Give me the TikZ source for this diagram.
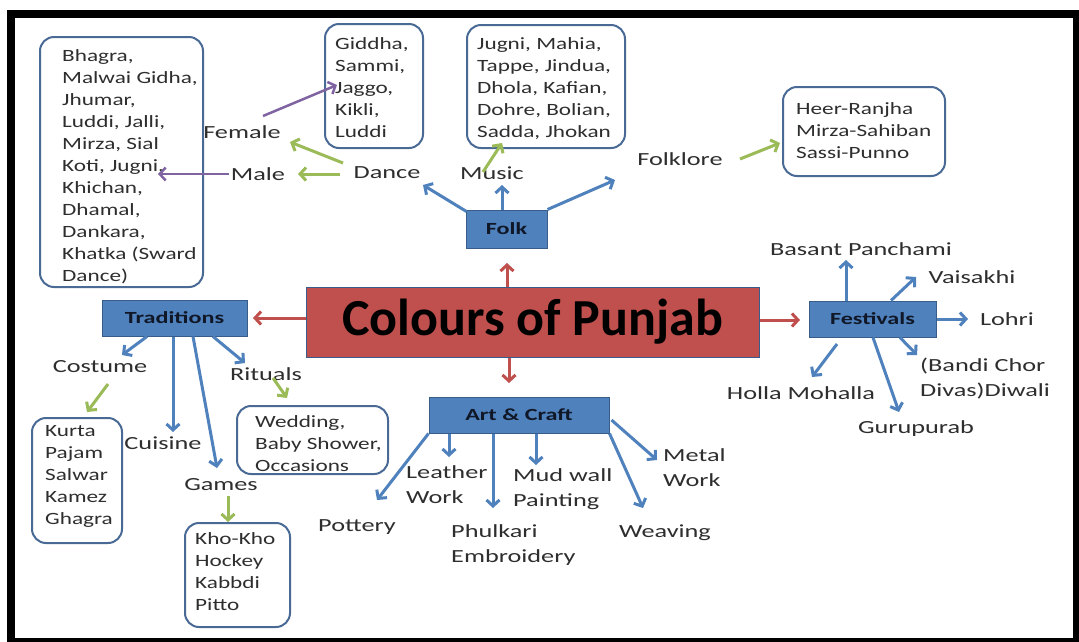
\documentclass[tikz,border=0pt]{standalone}
\usepackage{fontspec}
\setmainfont{Carlito}
\newfontfamily\lblfont[FakeStretch=1.42]{Carlito}
\newfontfamily\lstfont[FakeStretch=1.35]{Carlito}
\newfontfamily\titlefont{Carlito}
\usetikzlibrary{arrows.meta}
\definecolor{boxblue}{HTML}{4F81BD}
\definecolor{boxedge}{HTML}{385D8A}
\definecolor{redc}{HTML}{C0504D}
\definecolor{greenc}{HTML}{9BBB59}
\definecolor{purplec}{HTML}{8064A2}
\definecolor{listedge}{HTML}{4A6A96}
\definecolor{txt}{HTML}{2E2E2E}
\definecolor{navytxt}{HTML}{101828}
\tikzset{
  lbl/.style={font=\lblfont\fontsize{18.5}{25}\selectfont, text=txt, inner sep=0pt, align=left},
  lst/.style={font=\lstfont\fontsize{17.2}{22}\selectfont, text=txt, inner sep=0pt, align=left, anchor=north west},
  listbox/.style={draw=listedge, line width=2pt, rounded corners=14pt, fill=white, inner sep=0pt},
  bluebox/.style={draw=boxedge, line width=1pt, fill=boxblue, inner sep=0pt, text=navytxt,
    font=\lblfont\bfseries\fontsize{17}{20}\selectfont},
  arr/.style={line width=3pt, -{Straight Barb[length=6pt,width=13pt]}},
  redarr/.style={arr, draw=redc},
  bluearr/.style={arr, draw=boxblue},
  greenarr/.style={arr, draw=greenc},
  purplearr/.style={arr, line width=2.5pt, draw=purplec},
}
\begin{document}
\begin{tikzpicture}[x=1pt,y=-1pt]
\useasboundingbox (0,0) rectangle (1079,641);
\fill[white] (0,0) rectangle (1079,641);
\draw[line width=8pt] (11,14) rectangle (1077,642);

% list boxes
\node[listbox, minimum width=163pt, minimum height=250pt] (bigbox) at (121.5,162) {};
\node[listbox, minimum width=98pt, minimum height=124pt] (gidbox) at (374,86) {};
\node[listbox, minimum width=158pt, minimum height=123pt] (musbox) at (546,86.5) {};
\node[listbox, minimum width=162pt, minimum height=89pt] (heerbox) at (864,131.5) {};
\node[listbox, minimum width=90pt, minimum height=125pt] (kurbox) at (77,480.5) {};
\node[listbox, minimum width=151pt, minimum height=68pt] (wedbox) at (312.5,440) {};
\node[listbox, minimum width=105pt, minimum height=104pt] (khobox) at (237.5,575) {};

\node[lst] (bigtxt) at (62,49) {Bhagra,\\Malwai Gidha,\\Jhumar,\\Luddi, Jalli,\\Mirza, Sial\\Koti, Jugni,\\Khichan,\\Dhamal,\\Dankara,\\Khatka (Sward\\Dance)};
\node[lst] (gidtxt) at (335,37) {Giddha,\\Sammi,\\Jaggo,\\Kikli,\\Luddi};
\node[lst] (mustxt) at (477,37) {Jugni, Mahia,\\Tappe, Jindua,\\Dhola, Kafian,\\Dohre, Bolian,\\Sadda, Jhokan};
\node[lst] (heertxt) at (796,102) {Heer-Ranjha\\Mirza-Sahiban\\Sassi-Punno};
\node[lst] (kurtxt) at (45,425) {Kurta\\Pajam\\Salwar\\Kamez\\Ghagra};
\node[lst] (wedtxt) at (255,415) {Wedding,\\Baby Shower,\\Occasions};
\node[lst] (khotxt) at (195,532) {Kho-Kho\\Hockey\\Kabbdi\\Pitto};

% main boxes
\node[draw=boxedge, line width=1pt, fill=redc, minimum width=453pt, minimum height=70pt, inner sep=0pt,
  font=\titlefont\bfseries\fontsize{52}{60}\selectfont, text=black] (center) at (532.5,322) {Colours of Punjab};
\node[bluebox, minimum width=81pt, minimum height=38pt] (folk) at (506.5,229) {Folk};
\node[bluebox, minimum width=145pt, minimum height=36pt] (trad) at (174.5,318) {Traditions};
\node[bluebox, minimum width=127pt, minimum height=36pt] (fest) at (872.5,319) {Festivals};
\node[bluebox, minimum width=180pt, minimum height=36pt] (art) at (519,415) {Art \& Craft};

% labels
\node[lbl] (female) at (242,132) {Female};
\node[lbl] (male) at (258,174) {Male};
\node[lbl] (dance) at (387,173) {Dance};
\node[lbl] (music) at (492,173) {Music};
\node[lbl] (folklore) at (680,159) {Folklore};
\node[lbl] (basant) at (861,249) {Basant Panchami};
\node[lbl] (vaisakhi) at (972,277) {Vaisakhi};
\node[lbl] (lohri) at (1007,319) {Lohri};
\node[lbl] (holla) at (801,393) {Holla Mohalla};
\node[lbl] (guru) at (916,429) {Gurupurab};
\node[lbl, anchor=north west] (bandi) at (920,358) {(Bandi Chor\\Divas)Diwali};
\node[lbl] (costume) at (100,367) {Costume};
\node[lbl] (cuisine) at (163,443) {Cuisine};
\node[lbl] (games) at (221,485) {Games};
\node[lbl] (rituals) at (266,374) {Rituals};
\node[lbl] (pottery) at (357,527) {Pottery};
\node[lbl, anchor=north west] (leather) at (406,465) {Leather\\Work};
\node[lbl, anchor=north west] (phulkari) at (451,524) {Phulkari\\Embroidery};
\node[lbl, anchor=north west] (mud) at (513,468) {Mud wall\\Painting};
\node[lbl] (weaving) at (665,533) {Weaving};
\node[lbl, anchor=north west] (metal) at (663,448) {Metal\\Work};

% arrow end points
\coordinate (tFolk) at (507,263);
\coordinate (tArt) at (509,383);
\coordinate (tTrad) at (253,318);
\coordinate (tFest) at (800,320);

% red arrows
\draw[redarr] (center.north -| tFolk) -- (tFolk);
\draw[redarr] (center.south -| tArt) -- (tArt);
\draw[redarr] (center.west |- tTrad) -- (tTrad);
\draw[redarr] (center.east |- tFest) -- (tFest);

% folk
\coordinate (tDance) at (423,185);
\coordinate (tMusic) at (502,185);
\coordinate (tFolklore) at (615,180);
\draw[bluearr] ([shift={(1,2)}]folk.north west) -- (tDance);
\draw[bluearr] (folk.north -| tMusic) -- (tMusic);
\draw[bluearr] (folk.north east) -- (tFolklore);

% festivals
\coordinate (tBasant) at (846,260);
\coordinate (tVais) at (916,277);
\coordinate (tLohri) at (968,319);
\coordinate (sHolla) at (837,344);
\coordinate (tHolla) at (812,377);
\coordinate (tGuru) at (899,412);
\coordinate (tBandi) at (917,355);
\draw[bluearr] (fest.north -| tBasant) -- (tBasant);
\draw[bluearr] ([xshift=18.5pt]fest.north) -- (tVais);
\draw[bluearr] (fest.east |- tLohri) -- (tLohri);
\draw[bluearr] (sHolla) -- (tHolla);
\draw[bluearr] ([xshift=0.5pt]fest.south) -- (tGuru);
\draw[bluearr] ([xshift=27.5pt]fest.south) -- (tBandi);

% traditions
\coordinate (tCost) at (122,355);
\coordinate (tCuis) at (173,432);
\coordinate (tGames) at (217,468);
\coordinate (tRit) at (245,363);
\draw[bluearr] ([xshift=-27.5pt]trad.south) -- (tCost);
\draw[bluearr] ([xshift=-1.5pt]trad.south) -- (tCuis);
\draw[bluearr] ([xshift=18.5pt]trad.south) -- (tGames);
\draw[bluearr] ([xshift=38.5pt]trad.south) -- (tRit);

% art & craft
\coordinate (tPot) at (377,500);
\coordinate (tLeat) at (449,457);
\coordinate (tPhul) at (493,508);
\coordinate (tMud) at (536,465);
\coordinate (tWeav) at (643,508);
\coordinate (tMet) at (657,460);
\draw[bluearr] (art.south west) -- (tPot);
\draw[bluearr] (art.south -| tLeat) -- (tLeat);
\draw[bluearr] (art.south -| tPhul) -- (tPhul);
\draw[bluearr] (art.south -| tMud) -- (tMud);
\draw[bluearr] (art.south east) -- (tWeav);
\draw[bluearr] ([shift={(2,5)}]art.east) -- (tMet);

% green arrows
\coordinate (gFem) at (290,142);
\coordinate (gMale) at (298,174);
\coordinate (gMus) at (502,143);
\coordinate (gHeer) at (780,143);
\coordinate (gKur) at (87,412);
\coordinate (gWed) at (287,398);
\coordinate (gKho) at (228,522);
\draw[greenarr] ([shift={(-44,-10)}]dance.center) -- (gFem);
\draw[greenarr] ([shift={(-47,1)}]dance.center) -- (gMale);
\draw[greenarr] ([shift={(-9,-1)}]music.center) -- (gMus);
\draw[greenarr] ([shift={(60,0)}]folklore.center) -- (gHeer);
\draw[greenarr] ([shift={(8,17)}]costume.center) -- (gKur);
\draw[greenarr] ([shift={(7,4)}]rituals.center) -- (gWed);
\draw[greenarr] ([shift={(7,11)}]games.center) -- (gKho);

% purple arrows
\coordinate (pBig) at (158,174);
\coordinate (pGid) at (337,85);
\draw[purplearr] ([xshift=-2pt]male.west) -- (pBig);
\draw[purplearr] ([shift={(21,-16)}]female.center) -- (pGid);
\end{tikzpicture}
\end{document}
